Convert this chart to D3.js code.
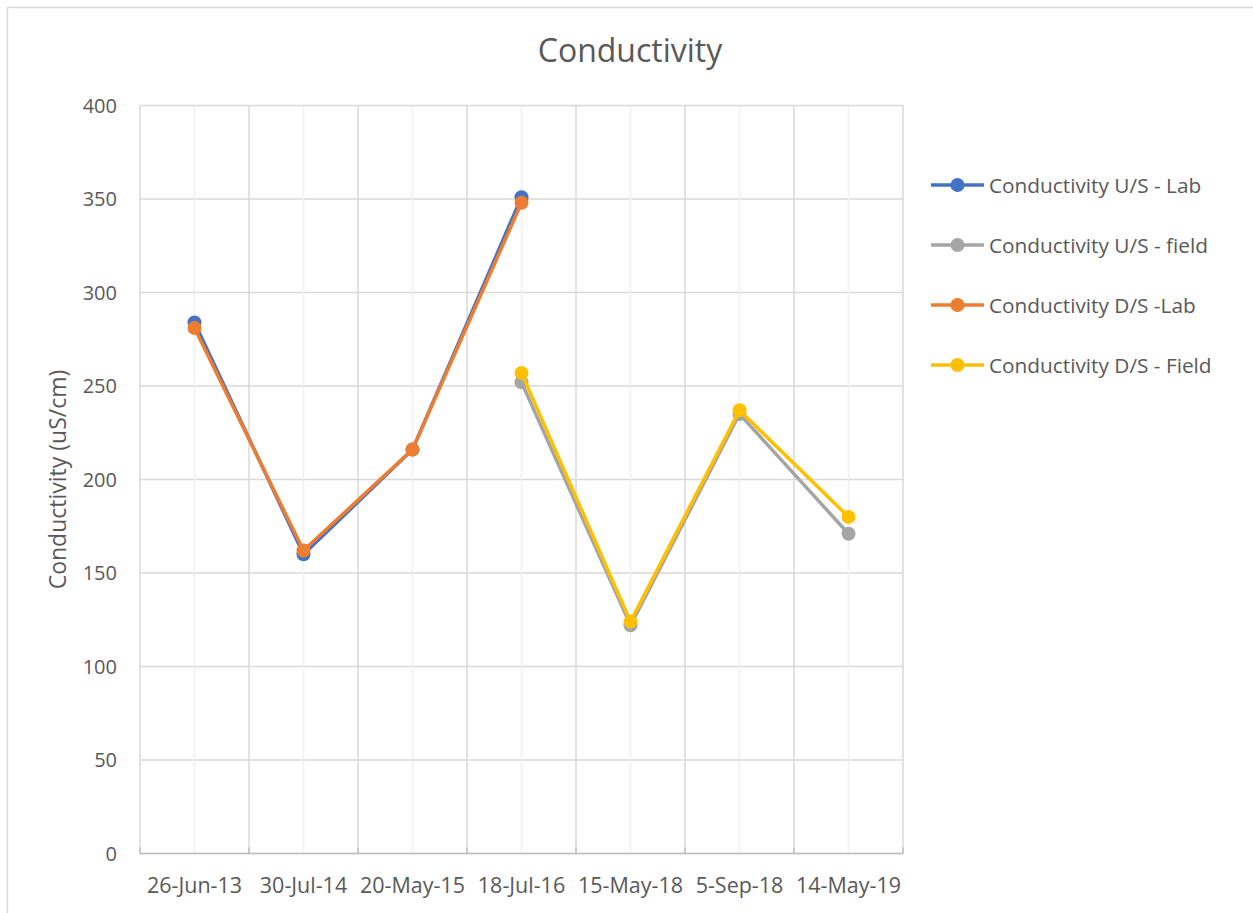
<!DOCTYPE html>
<html>
<head>
<meta charset="utf-8">
<script src="https://cdn.jsdelivr.net/npm/d3@7"></script>
<style>
  body { margin: 0; background: #fff; }
  text { font-family: "Open Sans", sans-serif; fill: #595959; }
</style>
</head>
<body>
<svg id="chart" width="1253" height="913"></svg>
<script>
// data
var dates = ['26-Jun-13', '30-Jul-14', '20-May-15', '18-Jul-16', '15-May-18', '5-Sep-18', '14-May-19'];
var usLab   = [284, 160, 216, 351, null, null, null];
var usField = [null, null, null, 252, 122, 235, 171];
var dsLab   = [281, 162, 216, 348, null, null, null];
var dsField = [null, null, null, 257, 124, 237, 180];
var seriesNames = ['Conductivity U/S - Lab', 'Conductivity U/S - field', 'Conductivity D/S -Lab', 'Conductivity D/S - Field'];
var seriesColors = ['#4472c4', '#a5a5a5', '#ed7d31', '#ffc000'];
var yTicks = [0, 50, 100, 150, 200, 250, 300, 350, 400];

var series = [usLab, usField, dsLab, dsField].map(function(v, i){
    return {name: seriesNames[i], color: seriesColors[i], values: v};
});

var svg = d3.select('#chart');
var plot = {left: 140, right: 903, top: 105.5, bottom: 853.5};

// outer chart frame (only top/left visible in the picture)
svg.append('rect').attr('x', 7.5).attr('y', 7.5).attr('width', 1300).attr('height', 1000)
   .attr('fill', 'none').attr('stroke', '#d9d9d9').attr('stroke-width', 1.5);

var x = d3.scaleBand().domain(dates).range([plot.left, plot.right]);
var y = d3.scaleLinear().domain([0, 400]).range([plot.bottom, plot.top]);

// gridlines
var grid = svg.append('g');
grid.selectAll('.hgrid').data(yTicks).enter().append('line')
    .attr('x1', plot.left).attr('x2', plot.right)
    .attr('y1', function(d){ return y(d); }).attr('y2', function(d){ return y(d); })
    .attr('stroke', '#d9d9d9').attr('stroke-width', 1.5);
grid.selectAll('.minor').data(dates).enter().append('line')
    .attr('x1', function(d){ return x(d) + x.bandwidth()/2; })
    .attr('x2', function(d){ return x(d) + x.bandwidth()/2; })
    .attr('y1', plot.top).attr('y2', plot.bottom)
    .attr('stroke', '#f0f0f0').attr('stroke-width', 1.5);
var bounds = dates.map(function(d){ return x(d); }).concat([plot.right]);
grid.selectAll('.vgrid').data(bounds).enter().append('line')
    .attr('x1', function(d){ return d; }).attr('x2', function(d){ return d; })
    .attr('y1', plot.top).attr('y2', plot.bottom)
    .attr('stroke', '#d9d9d9').attr('stroke-width', 1.5);

// x axis line + ticks
svg.append('line').attr('x1', plot.left).attr('x2', plot.right)
   .attr('y1', plot.bottom).attr('y2', plot.bottom)
   .attr('stroke', '#bfbfbf').attr('stroke-width', 1.5);
svg.selectAll('.xtick').data(bounds).enter().append('line')
   .attr('x1', function(d){ return d; }).attr('x2', function(d){ return d; })
   .attr('y1', plot.bottom - 6).attr('y2', plot.bottom)
   .attr('stroke', '#bfbfbf').attr('stroke-width', 1.5);

// axis labels
svg.selectAll('.xlab').data(dates).enter().append('text')
   .attr('x', function(d){ return x(d) + x.bandwidth()/2; })
   .attr('y', 893).attr('text-anchor', 'middle')
   .style('font-size', '21.5px').text(function(d){ return d; });
svg.selectAll('.ylab').data(yTicks).enter().append('text')
   .attr('x', 117).attr('y', function(d){ return y(d); }).attr('dy', '0.36em')
   .attr('text-anchor', 'end').style('font-size', '20px').text(function(d){ return d; });

svg.append('text').attr('transform', 'translate(66,' + ((plot.top + plot.bottom)/2) + ') rotate(-90)')
   .attr('text-anchor', 'middle').style('font-size', '23px').text('Conductivity (uS/cm)');

svg.append('text').attr('x', 630).attr('y', 62).attr('text-anchor', 'middle')
   .style('font-size', '32px').text('Conductivity');

// series
var line = d3.line()
    .defined(function(d){ return d.v != null; })
    .x(function(d){ return x(d.k) + x.bandwidth()/2; })
    .y(function(d){ return y(d.v); });

series.forEach(function(s){
    var pts = s.values.map(function(v, i){ return {k: dates[i], v: v}; });
    var g = svg.append('g');
    g.append('path').datum(pts).attr('d', line)
        .attr('fill', 'none').attr('stroke', s.color).attr('stroke-width', 3.5)
        .attr('stroke-linejoin', 'round');
    g.selectAll('circle').data(pts.filter(function(d){ return d.v != null; })).enter()
        .append('circle')
        .attr('cx', function(d){ return x(d.k) + x.bandwidth()/2; })
        .attr('cy', function(d){ return y(d.v); })
        .attr('r', 7).attr('fill', s.color);
});

// legend
var legend = svg.selectAll('.leg').data(series).enter().append('g')
    .attr('transform', function(d, i){ return 'translate(931,' + (185 + i*60) + ')'; });
legend.append('line').attr('x1', 0).attr('x2', 53)
    .attr('stroke', function(d){ return d.color; }).attr('stroke-width', 3.5);
legend.append('circle').attr('cx', 26.5).attr('r', 7).attr('fill', function(d){ return d.color; });
legend.append('text').attr('x', 58).attr('dy', '0.36em').style('font-size', '20.8px')
    .text(function(d){ return d.name; });
</script>
</body>
</html>
